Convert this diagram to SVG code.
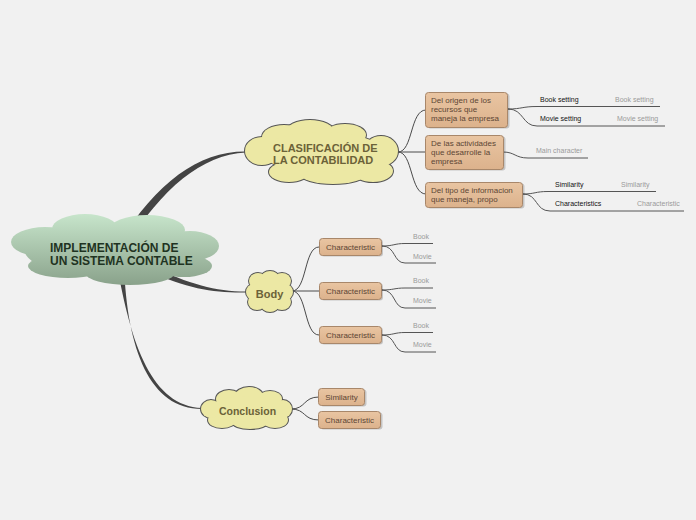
<svg xmlns="http://www.w3.org/2000/svg" xmlns:xlink="http://www.w3.org/1999/xlink" width="696" height="520" viewBox="0 0 696 520">
<style>
.bg{fill:#f1f1f1}
.thick{fill:#444;stroke:none}
.ln{fill:none;stroke:#4a4a4a;stroke-width:1}
.ul{fill:none;stroke:#555;stroke-width:1}
.cs{fill:none;stroke:#555;stroke-width:2}
.cf{fill:#ece8a4;stroke:none}
.ctx{font-family:"Liberation Sans",Arial,sans-serif;font-weight:bold;fill:#6b6238}
.rtx{font-family:"Liberation Sans",Arial,sans-serif;font-weight:bold;font-size:12px;fill:#1f3322}
.box{fill:url(#bg1);stroke:#a8876a;stroke-width:1}
.sh{fill:#000;opacity:0.18}
.btx{font-family:"Liberation Sans",Arial,sans-serif;font-size:8px;fill:#5c4635}
.k{font-family:"Liberation Sans",Arial,sans-serif;font-size:7px;fill:#111}
.g{font-family:"Liberation Sans",Arial,sans-serif;font-size:7px;fill:#9a9a9a}
</style>
<defs>
<linearGradient id="rg" gradientUnits="userSpaceOnUse" x1="0" y1="213" x2="0" y2="287">
<stop offset="0" stop-color="#c8e6cc"/>
<stop offset="1" stop-color="#88a089"/>
</linearGradient>
<linearGradient id="bg1" x1="0" y1="0" x2="0" y2="1">
<stop offset="0" stop-color="#e9c5a2"/>
<stop offset="1" stop-color="#dcb28c"/>
</linearGradient>
<g id="c1">
<ellipse cx="262" cy="151" rx="17" ry="14"/>
<ellipse cx="284" cy="137" rx="22" ry="12"/>
<ellipse cx="310" cy="132" rx="24" ry="12"/>
<ellipse cx="345" cy="135" rx="21" ry="11"/>
<ellipse cx="381" cy="151" rx="17" ry="15"/>
<ellipse cx="373" cy="171" rx="20" ry="11"/>
<ellipse cx="333" cy="174" rx="33" ry="10"/>
<ellipse cx="289" cy="172" rx="20" ry="10"/>
<ellipse cx="322" cy="152" rx="60" ry="20"/>
</g>
<g id="c2">
<ellipse cx="258" cy="281" rx="9" ry="8"/>
<ellipse cx="270" cy="278" rx="9" ry="7"/>
<ellipse cx="282" cy="281" rx="9" ry="8"/>
<ellipse cx="285" cy="292" rx="8" ry="8"/>
<ellipse cx="282" cy="302" rx="9" ry="8"/>
<ellipse cx="270" cy="305" rx="9" ry="7"/>
<ellipse cx="257" cy="302" rx="9" ry="8"/>
<ellipse cx="254" cy="292" rx="8" ry="8"/>
<ellipse cx="269" cy="292" rx="16" ry="14"/>
</g>
<g id="c3">
<ellipse cx="229" cy="399" rx="13" ry="9"/>
<ellipse cx="249" cy="396" rx="14" ry="9"/>
<ellipse cx="270" cy="399" rx="12" ry="8"/>
<ellipse cx="283" cy="409" rx="9" ry="9"/>
<ellipse cx="275" cy="420" rx="13" ry="8"/>
<ellipse cx="250" cy="422" rx="18" ry="7"/>
<ellipse cx="222" cy="420" rx="14" ry="8"/>
<ellipse cx="211" cy="409" rx="10" ry="9"/>
<ellipse cx="246" cy="409" rx="36" ry="13"/>
</g>
</defs>
<rect class="bg" x="0" y="0" width="696" height="520"/>

<g id="connectors">
<path class="thick" d="M 119 243 C 157 182, 199 151, 246 151.5 L 246 152.5 C 201 155, 163 188, 125 247 Z"/>
<path class="thick" d="M 150 266 C 190 284, 215 291.5, 246 291.5 L 246 292.5 C 214 293, 188 289, 148 271 Z"/>
<path class="thick" d="M 117 265 C 131 345, 152 406, 202 408 L 202 409 C 150 409, 127 350, 124 265 Z"/>
<path class="ln" d="M 398 152 C 413 152, 410 110, 426 110"/>
<path class="ln" d="M 398 152 L 426 152"/>
<path class="ln" d="M 398 152 C 413 152, 410 194, 426 194"/>
<path class="ul" d="M 508 109 C 522 109, 522 106.5, 537 106.5 L 660 106.5"/>
<path class="ul" d="M 508 109 C 524 109, 522 126, 537 126 L 665 126"/>
<path class="ul" d="M 503 152 C 515 152, 515 158, 528 158 L 588 158"/>
<path class="ul" d="M 523 194 C 535 194, 535 191.5, 548 191.5 L 656 191.5"/>
<path class="ul" d="M 523 194 C 538 194, 535 211, 550 211 L 684 211"/>
<path class="ln" d="M 292 291 C 307 291, 304 247, 319 247"/>
<path class="ln" d="M 292 291 L 319 291"/>
<path class="ln" d="M 292 291 C 307 291, 304 335, 319 335"/>
<path class="ul" d="M 382 246 C 394 246, 394 243.5, 405 243.5 L 433 243.5"/>
<path class="ul" d="M 382 246 C 396 246, 393 263, 405 263 L 436 263"/>
<path class="ul" d="M 382 290 C 394 290, 394 288, 405 288 L 433 288"/>
<path class="ul" d="M 382 290 C 396 290, 393 308, 405 308 L 436 308"/>
<path class="ul" d="M 382 335 C 394 335, 394 332.5, 405 332.5 L 433 332.5"/>
<path class="ul" d="M 382 335 C 396 335, 393 352, 405 352 L 436 352"/>
<path class="ln" d="M 291 409 C 306 409, 303 397, 319 397"/>
<path class="ln" d="M 291 409 C 306 409, 303 420, 319 420"/>
</g>

<g id="root">
<g fill="url(#rg)">
<ellipse cx="85" cy="229" rx="33" ry="15"/>
<ellipse cx="147" cy="230" rx="38" ry="15"/>
<ellipse cx="45" cy="242" rx="34" ry="15"/>
<ellipse cx="190" cy="246" rx="29" ry="15"/>
<ellipse cx="68" cy="266" rx="40" ry="12"/>
<ellipse cx="130" cy="273" rx="45" ry="12"/>
<ellipse cx="184" cy="266" rx="28" ry="11"/>
<ellipse cx="115" cy="251" rx="90" ry="26"/>
</g>
<text class="rtx" x="50" y="252">IMPLEMENTACIÓN DE</text>
<text class="rtx" x="50" y="264.5">UN SISTEMA CONTABLE</text>
</g>

<g id="clasificacion">
<use xlink:href="#c1" class="cs"/>
<use xlink:href="#c1" class="cf"/>
<text class="ctx" font-size="11" x="273" y="152">CLASIFICACIÓN DE</text>
<text class="ctx" font-size="11" x="273" y="163.5">LA CONTABILIDAD</text>
</g>

<g id="body">
<use xlink:href="#c2" class="cs"/>
<use xlink:href="#c2" class="cf"/>
<text class="ctx" font-size="11" x="269.5" y="298" text-anchor="middle">Body</text>
</g>

<g id="conclusion">
<use xlink:href="#c3" class="cs"/>
<use xlink:href="#c3" class="cf"/>
<text class="ctx" font-size="10.5" x="247.5" y="415" text-anchor="middle">Conclusion</text>
</g>

<g id="origen">
<rect class="sh" x="427.5" y="93.5" width="82" height="35" rx="3"/>
<rect class="box" x="425.5" y="92.5" width="82" height="35" rx="3"/>
<text class="btx" x="431" y="103">Del origen de los</text>
<text class="btx" x="431" y="112">recursos que</text>
<text class="btx" x="431" y="121">maneja la empresa</text>
</g>
<g id="actividades">
<rect class="sh" x="427.5" y="136.5" width="78" height="34" rx="3"/>
<rect class="box" x="425.5" y="135.5" width="78" height="34" rx="3"/>
<text class="btx" x="431" y="146">De las actividades</text>
<text class="btx" x="431" y="155">que desarrolle la</text>
<text class="btx" x="431" y="164">empresa</text>
</g>
<g id="tipo">
<rect class="sh" x="427.5" y="183.5" width="97" height="25" rx="3"/>
<rect class="box" x="425.5" y="182.5" width="97" height="25" rx="3"/>
<text class="btx" x="431" y="193">Del tipo de informacion</text>
<text class="btx" x="431" y="202">que maneja, propo</text>
</g>

<g id="leaf-book-setting"><text class="k" x="540" y="102">Book setting</text><text class="g" x="615" y="102">Book setting</text></g>
<g id="leaf-movie-setting"><text class="k" x="540" y="121">Movie setting</text><text class="g" x="617" y="121">Movie setting</text></g>
<g id="leaf-main-character"><text class="g" x="536" y="153">Main character</text></g>
<g id="leaf-similarity"><text class="k" x="555" y="187">Similarity</text><text class="g" x="621" y="187">Similarity</text></g>
<g id="leaf-characteristics"><text class="k" x="555" y="206">Characteristics</text><text class="g" x="637" y="206">Characteristic</text></g>

<g id="char1">
<rect class="sh" x="321" y="239.5" width="62" height="17" rx="3"/>
<rect class="box" x="319.5" y="238.5" width="62" height="17" rx="3"/>
<text class="btx" x="350.5" y="250" text-anchor="middle">Characteristic</text>
</g>
<g id="char2">
<rect class="sh" x="321" y="283.5" width="62" height="17" rx="3"/>
<rect class="box" x="319.5" y="282.5" width="62" height="17" rx="3"/>
<text class="btx" x="350.5" y="294" text-anchor="middle">Characteristic</text>
</g>
<g id="char3">
<rect class="sh" x="321" y="327.5" width="62" height="17" rx="3"/>
<rect class="box" x="319.5" y="326.5" width="62" height="17" rx="3"/>
<text class="btx" x="350.5" y="338" text-anchor="middle">Characteristic</text>
</g>
<g id="leaf-book1"><text class="g" x="413" y="239">Book</text></g>
<g id="leaf-movie1"><text class="g" x="413" y="259">Movie</text></g>
<g id="leaf-book2"><text class="g" x="413" y="283">Book</text></g>
<g id="leaf-movie2"><text class="g" x="413" y="303">Movie</text></g>
<g id="leaf-book3"><text class="g" x="413" y="328">Book</text></g>
<g id="leaf-movie3"><text class="g" x="413" y="347">Movie</text></g>

<g id="conc-similarity">
<rect class="sh" x="320.5" y="389.5" width="46" height="17" rx="3"/>
<rect class="box" x="318.5" y="388.5" width="46" height="17" rx="3"/>
<text class="btx" x="341.5" y="400" text-anchor="middle">Similarity</text>
</g>
<g id="conc-characteristic">
<rect class="sh" x="320.5" y="412.5" width="62" height="17" rx="3"/>
<rect class="box" x="318.5" y="411.5" width="62" height="17" rx="3"/>
<text class="btx" x="349.5" y="423" text-anchor="middle">Characteristic</text>
</g>
</svg>
